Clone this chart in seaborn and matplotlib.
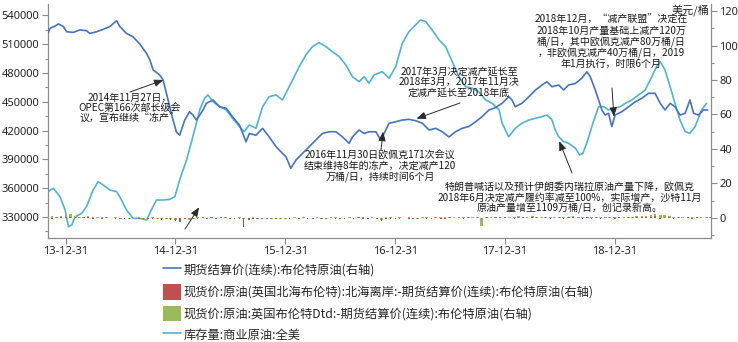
import pandas as pd
import matplotlib
matplotlib.use("Agg")
import matplotlib.pyplot as plt
import matplotlib.dates as mdates
from matplotlib.ticker import MultipleLocator, FixedLocator
from matplotlib.patches import Patch
from matplotlib.lines import Line2D
import seaborn as sns

# ---------------- data ----------------
brent_dates = [
    "2013-11-02", "2013-11-09", "2013-11-26", "2013-12-07", "2013-12-23", "2014-01-03",
    "2014-01-25", "2014-02-16", "2014-03-10", "2014-03-21", "2014-04-13", "2014-05-05",
    "2014-05-27", "2014-06-18", "2014-06-29", "2014-07-21", "2014-08-12", "2014-09-03",
    "2014-09-26", "2014-10-07", "2014-10-18", "2014-11-09", "2014-11-20", "2014-12-01",
    "2014-12-12", "2014-12-23", "2015-01-03", "2015-01-14", "2015-01-31", "2015-02-16",
    "2015-02-27", "2015-03-11", "2015-03-22", "2015-04-02", "2015-04-13", "2015-05-05",
    "2015-05-27", "2015-06-18", "2015-07-09", "2015-08-01", "2015-08-23", "2015-09-03",
    "2015-09-25", "2015-10-17", "2015-11-08", "2015-12-01", "2015-12-22", "2016-01-03",
    "2016-01-19", "2016-02-05", "2016-02-27", "2016-03-20", "2016-04-11", "2016-05-03",
    "2016-05-26", "2016-06-17", "2016-07-09", "2016-07-31", "2016-08-11", "2016-09-02",
    "2016-09-19", "2016-10-05", "2016-10-28", "2016-11-13", "2016-11-24", "2016-12-11",
    "2017-01-02", "2017-01-24", "2017-02-15", "2017-03-09", "2017-03-31", "2017-04-23",
    "2017-05-15", "2017-06-06", "2017-06-28", "2017-07-20", "2017-08-11", "2017-09-02",
    "2017-09-25", "2017-10-16", "2017-11-08", "2017-11-30", "2017-12-22", "2018-01-13",
    "2018-01-24", "2018-02-04", "2018-02-26", "2018-03-21", "2018-04-12", "2018-05-04",
    "2018-05-20", "2018-06-06", "2018-06-28", "2018-07-15", "2018-07-31", "2018-08-23",
    "2018-09-13", "2018-09-30", "2018-10-11", "2018-10-28", "2018-11-08", "2018-11-19",
    "2018-11-30", "2018-12-11", "2018-12-22", "2019-01-02", "2019-01-24", "2019-02-16",
    "2019-03-10", "2019-04-01", "2019-04-23", "2019-05-15", "2019-06-01", "2019-06-17",
    "2019-07-04", "2019-07-20", "2019-08-06", "2019-08-23", "2019-09-08", "2019-09-20",
    "2019-10-06", "2019-10-23", "2019-11-06",
]
brent_price = [
    107.1, 110.0, 111.3, 112.5, 111.0, 108.0,
    107.6, 109.0, 108.6, 107.0, 108.0, 109.4,
    111.0, 114.4, 111.0, 107.0, 105.0, 101.0,
    95.4, 91.6, 85.8, 82.9, 80.0, 72.3,
    64.5, 56.8, 50.0, 48.0, 56.8, 61.6,
    59.7, 56.8, 59.7, 62.6, 66.5, 68.4,
    64.5, 63.6, 58.7, 53.9, 44.2, 49.0,
    48.0, 52.0, 47.0, 41.3, 37.5, 35.5,
    28.8, 33.6, 37.5, 41.3, 45.2, 49.0,
    50.0, 50.0, 47.0, 43.3, 47.0, 51.0,
    49.0, 50.0, 50.0, 45.2, 49.0, 54.9,
    55.8, 56.8, 57.2, 56.4, 55.0, 51.0,
    52.0, 50.0, 47.0, 50.0, 52.0, 53.0,
    55.8, 58.7, 62.6, 64.0, 66.5, 70.3,
    68.4, 64.5, 66.5, 70.3, 74.2, 77.1,
    79.0, 76.1, 77.1, 74.2, 77.1, 78.0,
    81.0, 84.8, 82.0, 74.2, 68.4, 62.6,
    59.7, 60.7, 53.0, 59.7, 61.6, 64.5,
    67.4, 69.4, 72.3, 72.3, 66.5, 62.6,
    66.5, 64.5, 59.7, 60.7, 68.4, 60.7,
    59.7, 62.6, 62.6,
]

stock_dates = [
    "2013-11-02", "2013-11-20", "2013-12-12", "2013-12-29", "2014-01-09", "2014-01-20",
    "2014-01-31", "2014-02-22", "2014-03-10", "2014-04-01", "2014-04-18", "2014-05-05",
    "2014-05-27", "2014-06-18", "2014-06-29", "2014-07-21", "2014-08-12", "2014-09-03",
    "2014-09-26", "2014-10-12", "2014-10-29", "2014-11-20", "2014-12-12", "2014-12-29",
    "2015-01-14", "2015-02-06", "2015-02-27", "2015-03-22", "2015-04-07", "2015-04-18",
    "2015-05-05", "2015-05-27", "2015-06-18", "2015-07-09", "2015-08-01", "2015-08-17",
    "2015-09-03", "2015-09-25", "2015-10-17", "2015-11-08", "2015-12-01", "2015-12-22",
    "2016-01-25", "2016-02-16", "2016-03-09", "2016-03-31", "2016-04-22", "2016-05-15",
    "2016-06-05", "2016-06-28", "2016-07-20", "2016-08-11", "2016-09-02", "2016-09-19",
    "2016-10-05", "2016-10-22", "2016-11-18", "2016-12-11", "2017-01-02", "2017-01-24",
    "2017-02-15", "2017-03-09", "2017-03-26", "2017-04-12", "2017-05-03", "2017-05-26",
    "2017-06-17", "2017-07-09", "2017-07-31", "2017-08-22", "2017-09-13", "2017-10-05",
    "2017-10-28", "2017-11-19", "2017-12-12", "2017-12-22", "2018-01-13", "2018-02-04",
    "2018-02-26", "2018-03-21", "2018-04-12", "2018-05-04", "2018-05-20", "2018-06-06",
    "2018-06-17", "2018-06-28", "2018-07-15", "2018-07-31", "2018-08-23", "2018-09-06",
    "2018-09-17", "2018-10-03", "2018-10-20", "2018-11-08", "2018-11-25", "2018-12-11",
    "2018-12-28", "2019-01-19", "2019-02-05", "2019-02-27", "2019-03-21", "2019-04-12",
    "2019-05-04", "2019-05-20", "2019-06-01", "2019-06-17", "2019-07-04", "2019-07-20",
    "2019-08-06", "2019-08-23", "2019-09-08", "2019-09-25", "2019-10-17", "2019-11-02",
]
stock_level = [
    356400, 359900, 351100, 337300, 319900, 321700,
    330300, 333800, 340700, 358100, 366800, 363300,
    358100, 356400, 351100, 337300, 328600, 328600,
    326900, 337300, 347700, 347700, 348400, 351100,
    368500, 389400, 413600, 441500, 453600, 457100,
    450100, 444900, 441500, 432800, 424100, 418900,
    425800, 422400, 444900, 455300, 457100, 451900,
    472700, 486600, 498800, 507400, 511600, 507400,
    502200, 497000, 488300, 476100, 470900, 476100,
    469300, 477900, 481400, 474500, 486600, 510900,
    523000, 530000, 535200, 533400, 524800, 514400,
    507400, 491800, 476100, 465700, 464100, 460500,
    451900, 448400, 441500, 427600, 413600, 422400,
    427600, 431000, 432800, 434500, 436300, 431000,
    420600, 413600, 408400, 406800, 401600, 394600,
    396400, 410200, 427600, 444900, 444900, 441500,
    443200, 444900, 448400, 451900, 457100, 462300,
    476100, 486600, 491800, 483100, 465700, 448400,
    431000, 418900, 417200, 424100, 441500, 448400,
]

# Half-monthly spreads (USD/bbl), one value per period starting 2013-11-01
spread_dtd = [
    0.6, 0.9, 0.5, 1.2,
    1.6, 2.2, 1.0, 0.8, 0.5, 0.9, 0.4, 0.6, 0.3, 0.5, 0.2, 0.4,
    -0.3, 0.2, -0.5, -0.2, 0.3, -0.4, -0.2, 0.3, -0.6, -0.3, -0.8, -0.4,
    -1.2, -1.8, -0.6, -0.9, -0.4, 0.3, 0.2, -0.3, 0.4, -0.2, 0.3, 0.5,
    -0.4, -0.2, 0.4, -0.6, 0.2, 0.5, -0.3, -0.2, -0.5, -0.3, -0.6, -0.4,
    -0.5, -0.2, 0.3, -0.3, 0.4, 0.2, -0.2, 0.3, -0.4, 0.2, 0.3, 0.4,
    -0.3, 0.2, 0.3, -0.2, 0.4, 0.3, -0.2, 0.5, -0.6, -1.2, 0.3, 0.4,
    0.2, 0.4, -0.2, 0.3, 0.2, -0.3, 0.4, 0.3, -0.2, 0.5, 0.3, 0.4,
    0.6, 0.3, 0.5, 0.4, 0.7, 0.4, 0.5, -4.8, 0.6, 0.8, 0.5, 0.7,
    0.8, 0.6, 0.5, 0.9, 0.7, 0.6, 1.0, 0.8, 0.5, 0.7, 0.4, 0.6,
    0.8, 0.5, 0.7, 0.9, 0.6, 0.8, 0.5, 0.4, 0.6, 0.5, 0.3, 0.6,
    0.4, 0.7, 0.5, 0.8, 0.6, 0.9, 1.0, 1.4, 1.8, 2.1, 1.5, 1.9,
    1.2, 0.8, 0.6, 0.5, 0.7, 0.4, 0.6, 0.3, 0.5, 0.4,
]
spread_fob = [
    0.2, -0.3, 0.4, 0.3,
    0.5, 0.8, 0.3, -0.2, 0.4, 0.3, -0.3, 0.2, -0.4, 0.3, -0.2, -0.5,
    -0.3, -0.6, -0.4, -0.2, -0.7, -0.3, -0.5, -0.4, -0.8, -1.0, -0.6, -0.9,
    -1.5, -2.2, -0.8, -0.5, -0.3, -0.6, 0.3, -0.4, 0.5, -0.3, 0.4, 0.6,
    -0.5, -0.8, -0.4, -5.2, -0.9, -0.4, -0.6, -0.3, -0.7, -0.5, -0.8, -0.6,
    -0.7, -0.4, -0.2, -0.5, 0.3, -0.3, -0.4, 0.2, -0.5, -0.3, 0.2, -0.4,
    -0.6, -0.3, -0.2, -0.5, 0.3, -0.4, -0.3, -0.2, -0.8, -1.5, -0.4, -0.3,
    -0.3, -0.5, -0.2, -0.4, -0.3, -0.6, -0.2, -0.4, -0.5, -0.2, -0.3, -0.4,
    0.3, -0.2, 0.2, -0.3, 0.4, -0.2, 0.3, -0.5, 0.4, 0.2, 0.3, 0.5,
    0.4, 0.2, -0.3, 0.5, 0.3, -0.2, 0.6, 0.3, 0.2, 0.4, -0.3, 0.2,
    0.5, -0.4, 0.3, 0.4, 0.2, -0.3, 0.4, -0.6, 0.3, -0.5, -0.2, 0.3,
    -0.3, 0.4, 0.2, 0.5, 0.3, 0.6, 0.4, 0.8, 0.5, 0.9, -0.4, 0.6,
    0.5, -0.3, 0.3, 0.2, 0.4, -0.5, 0.3, -0.2, 0.2, 0.3,
]

x_major = ["2013-12-31", "2014-12-31", "2015-12-31", "2016-12-31", "2017-12-31", "2018-12-31"]

labels = [
    "期货结算价(连续):布伦特原油(右轴)",
    "现货价:原油(英国北海布伦特):北海离岸:-期货结算价(连续):布伦特原油(右轴)",
    "现货价:原油:英国布伦特Dtd:-期货结算价(连续):布伦特原油(右轴)",
    "库存量:商业原油:全美",
]

notes = [
    "2014年11月27日，\nOPEC第166次部长级会\n议，宣布继续“冻产”",
    "2017年3月决定减产延长至\n2018年3月，2017年11月决\n定减产延长至2018年底",
    "2016年11月30日欧佩克171次会议\n结束维持8年的冻产，决定减产120\n万桶/日，持续时间6个月",
    "特朗普喊话以及预计伊朗委内瑞拉原油产量下降，欧佩克\n2018年6月决定减产履约率减至100%，实际增产，沙特11月\n原油产量增至1109万桶/日，创记录新高。",
    "2018年12月，“减产联盟”决定在\n2018年10月产量基础上减产120万\n桶/日，其中欧佩克减产80万桶/日\n，非欧佩克减产40万桶/日，2019\n年1月执行，时限6个月",
]

# ---------------- style ----------------
C_BRENT = "#4673c2"
C_STOCK = "#4fb3d6"
C_RED = "#c0504d"
C_GREEN = "#9bbb59"
C_AXIS = "#8c8c8c"
C_TEXT = "#262626"
CJK = ["Noto Sans CJK SC", "DejaVu Sans"]

sns.set_theme(style="white")
plt.rcParams["font.family"] = ["Noto Sans", "Noto Sans CJK SC", "DejaVu Sans"]

brent = pd.DataFrame({"date": pd.to_datetime(brent_dates), "price": brent_price})
stock = pd.DataFrame({"date": pd.to_datetime(stock_dates), "level": stock_level})
spread_idx = pd.date_range("2013-11-01", periods=len(spread_dtd), freq="SMS")
spreads = pd.DataFrame({"date": spread_idx, "dtd": spread_dtd, "fob": spread_fob})

W, H = 738, 342
L, R, T, Bt = 47.7, 711.0, 4.0, 238.0
fig = plt.figure(figsize=(W / 100, H / 100), dpi=100)
ax = fig.add_axes([L / W, 1 - Bt / H, (R - L) / W, (Bt - T) / H])
ax2 = ax.twinx()

# inventory on the left axis
sns.lineplot(data=stock, x="date", y="level", ax=ax, color=C_STOCK, lw=1.2)

# spreads and Brent on the right axis
ax2.bar(spreads["date"], spreads["dtd"], width=9, color=C_GREEN, linewidth=0)
ax2.bar(spreads["date"], spreads["fob"], width=5, color=C_RED, linewidth=0)
sns.lineplot(data=brent, x="date", y="price", ax=ax2, color=C_BRENT, lw=1.2)

ax.set_xlim(pd.Timestamp("2013-11-01"), pd.Timestamp("2019-11-17"))
ax.set_ylim(308130, 551800)
ax2.set_ylim(-11.6, 124.06)

for a in (ax, ax2):
    a.set_xlabel("")
    a.set_ylabel("")
    for s in a.spines.values():
        s.set_visible(False)

ax.spines["left"].set_visible(True)
ax.spines["bottom"].set_visible(True)
ax2.spines["right"].set_visible(True)
for s in (ax.spines["left"], ax.spines["bottom"], ax2.spines["right"]):
    s.set_color(C_AXIS)
    s.set_linewidth(0.9)

ax.xaxis.set_major_locator(FixedLocator(mdates.date2num(pd.to_datetime(x_major))))
quarters = pd.date_range("2013-12-31", "2019-09-30", freq="QE")
ax.xaxis.set_minor_locator(FixedLocator(mdates.date2num(quarters)))
ax.xaxis.set_major_formatter(mdates.DateFormatter("%y-%m-%d"))
ax.yaxis.set_major_locator(MultipleLocator(30000))
ax.yaxis.set_minor_locator(MultipleLocator(15000))
ax2.yaxis.set_major_locator(MultipleLocator(20))
ax2.yaxis.set_minor_locator(MultipleLocator(10))

ax.tick_params(axis="both", which="both", direction="out", colors=C_AXIS,
               labelcolor=C_TEXT, labelsize=8, width=0.8)
ax.tick_params(axis="both", which="major", length=4, pad=2)
ax.tick_params(axis="both", which="minor", length=2.5)
ax.tick_params(axis="y", left=True, right=False)
ax.tick_params(axis="x", bottom=True, top=False)
ax2.tick_params(axis="y", which="both", direction="out", colors=C_AXIS,
                labelcolor=C_TEXT, labelsize=8, width=0.8, right=True, left=False)
ax2.tick_params(axis="y", which="major", length=4, pad=2)
ax2.tick_params(axis="y", which="minor", length=2.5)
ax.grid(False)
ax2.grid(False)

fig.text(709 / W, 1 - 10 / H, "美元/桶", ha="right", va="center", fontsize=8,
         family=CJK, color=C_TEXT)

# ---------------- annotations ----------------
arrow = dict(arrowstyle="-|>,head_length=0.55,head_width=0.22", color="#2b2b2b",
             lw=0.7, shrinkA=0, shrinkB=0, mutation_scale=10)


def fx(px):
    return (px - L) / (R - L)


def fy(py):
    return (Bt - py) / (Bt - T)


note_kw = dict(ha="center", va="center", fontsize=7.2, family=CJK, color="#1a1a1a",
               linespacing=1.05, transform=ax.transAxes, zorder=5)

ax2.text(fx(130), fy(108), notes[0], **note_kw)
ax2.annotate("", xy=(pd.Timestamp("2014-11-21"), 80.0), xycoords="data",
             xytext=(fx(130), fy(92)), textcoords="axes fraction", arrowprops=arrow)

ax2.text(fx(459), fy(82), notes[1], **note_kw)
ax2.annotate("", xy=(pd.Timestamp("2017-03-12"), 57.6), xycoords="data",
             xytext=(fx(460), fy(103)), textcoords="axes fraction", arrowprops=arrow)

ax2.text(fx(380), fy(166.5), notes[2], **note_kw)
ax2.annotate("", xy=(pd.Timestamp("2016-11-21"), 50.0), xycoords="data",
             xytext=(fx(381), fy(150)), textcoords="axes fraction", arrowprops=arrow)

ax2.text(fx(570), fy(198), notes[3], **note_kw)
ax.annotate("", xy=(pd.Timestamp("2018-06-30"), 409000), xycoords="data",
            xytext=(fx(572), fy(173)), textcoords="axes fraction", arrowprops=arrow)

ax2.text(fx(611), fy(42), notes[4], **note_kw)
ax2.annotate("", xy=(pd.Timestamp("2018-12-29"), 58.7), xycoords="data",
             xytext=(fx(612), fy(88)), textcoords="axes fraction", arrowprops=arrow)

ax2.annotate("", xy=(pd.Timestamp("2015-03-20"), 6.2), xycoords="data",
             xytext=(fx(185), fy(229)), textcoords="axes fraction", arrowprops=arrow)

# ---------------- legend ----------------
handles = [
    Line2D([], [], color=C_BRENT, lw=1.2),
    Patch(facecolor=C_RED, edgecolor="none"),
    Patch(facecolor=C_GREEN, edgecolor="none"),
    Line2D([], [], color=C_STOCK, lw=1.2),
]
fig.legend(handles, labels, loc="upper left", bbox_to_anchor=(163 / W, 1 - 262 / H),
           frameon=False, prop={"family": CJK, "size": 8.8}, handlelength=1.44,
           handleheight=1.6, labelspacing=0.5, handletextpad=0.25, borderpad=0,
           borderaxespad=0, labelcolor=C_TEXT)

fig.savefig("out.png", dpi=100)
